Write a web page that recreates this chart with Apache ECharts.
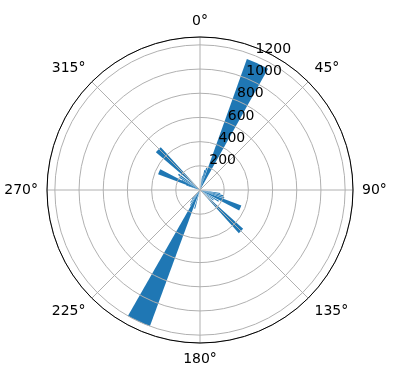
<!DOCTYPE html>
<html>
<head>
<meta charset="utf-8">
<script src="https://cdn.jsdelivr.net/npm/echarts@6/dist/echarts.min.js"></script>
<style>
  html, body { margin: 0; padding: 0; background: #fff; }
  #chart { width: 396px; height: 380px; }
</style>
</head>
<body>
<div id="chart"></div>
<script>
// bar direction (deg, clockwise from north), angular width (deg), count
var directions = [24.5, 17, 13.5, 10,   314, 294, 306, 302, 298, 290,   114, 135, 100, 104, 108, 121, 127,   205, 196, 212, 217, 222];
var widths     = [9.6, 3, 3, 3,         7, 7, 3, 3, 3, 3,               7, 6, 3, 3, 3, 3, 3,                9.6, 3, 3, 3, 3];
var counts     = [1150, 190, 170, 120,  480, 370, 220, 200, 170, 120,   365, 480, 170, 200, 210, 180, 140,  1200, 160, 150, 130, 100];

var angleTicks = [0, 45, 90, 135, 180, 225, 270, 315];
var radiusTicks = [200, 400, 600, 800, 1000, 1200];

var rMax = 1265;
var font = 'DejaVu Sans';

var barData = directions.map(function (d, i) {
    return [counts[i], d, widths[i]];
});

var myChart = echarts.init(document.getElementById('chart'));
var option = {
    animation: false,
    polar: [
        { center: [200, 190], radius: 153 },
        { center: [200, 190], radius: 153 }
    ],
    angleAxis: [
        {
            polarIndex: 0,
            type: 'value',
            min: 0,
            max: 360,
            interval: 45,
            startAngle: 90,
            clockwise: true,
            z: 5,
            axisLine: { lineStyle: { color: '#000', width: 1 } },
            axisTick: { show: false },
            axisLabel: {
                showMaxLabel: false,
                margin: 9,
                color: '#000',
                fontSize: 14,
                fontFamily: font,
                formatter: function (v) { return angleTicks.indexOf(v) >= 0 ? v + '°' : ''; }
            },
            splitLine: { lineStyle: { color: '#b0b0b0', width: 1 } }
        },
        {
            // only here to put the radius labels on the 22.5° line
            polarIndex: 1,
            type: 'value',
            min: 0,
            max: 360,
            startAngle: 67.5,
            clockwise: true,
            show: false
        }
    ],
    radiusAxis: [
        {
            polarIndex: 0,
            type: 'value',
            min: 0,
            max: rMax,
            interval: 200,
            z: 5,
            axisLine: { show: false },
            axisTick: { show: false },
            axisLabel: { show: false },
            splitLine: { lineStyle: { color: '#b0b0b0', width: 1 } }
        },
        {
            polarIndex: 1,
            type: 'value',
            min: 0,
            max: rMax,
            interval: 200,
            z: 6,
            axisLine: { show: false },
            axisTick: { show: false },
            splitLine: { show: false },
            axisLabel: {
                margin: 0,
                align: 'left',
                verticalAlign: 'bottom',
                showMinLabel: false,
                showMaxLabel: false,
                color: '#000',
                fontSize: 14,
                fontFamily: font,
                formatter: function (v) { return radiusTicks.indexOf(v) >= 0 ? String(v) : ''; }
            }
        }
    ],
    series: [{
        type: 'custom',
        coordinateSystem: 'polar',
        polarIndex: 0,
        z: 2,
        data: barData,
        encode: { radius: 0, angle: 1 },
        renderItem: function (params, api) {
            var r = api.value(0), a = api.value(1), w = api.value(2);
            var c = api.coord([0, a]);
            var p = api.coord([r, a]);
            var p0 = api.coord([r, a - w / 2]);
            var p1 = api.coord([r, a + w / 2]);
            var cx = c[0], cy = c[1];
            var len = Math.sqrt((p[0] - cx) * (p[0] - cx) + (p[1] - cy) * (p[1] - cy));
            var s = Math.atan2(p0[1] - cy, p0[0] - cx);
            var e = Math.atan2(p1[1] - cy, p1[0] - cx);
            if (e < s) e += Math.PI * 2;
            return {
                type: 'sector',
                shape: { cx: cx, cy: cy, r0: 0, r: len, startAngle: s, endAngle: e, clockwise: true },
                style: { fill: '#1f77b4' }
            };
        }
    }]
};
myChart.setOption(option);
</script>
</body>
</html>
